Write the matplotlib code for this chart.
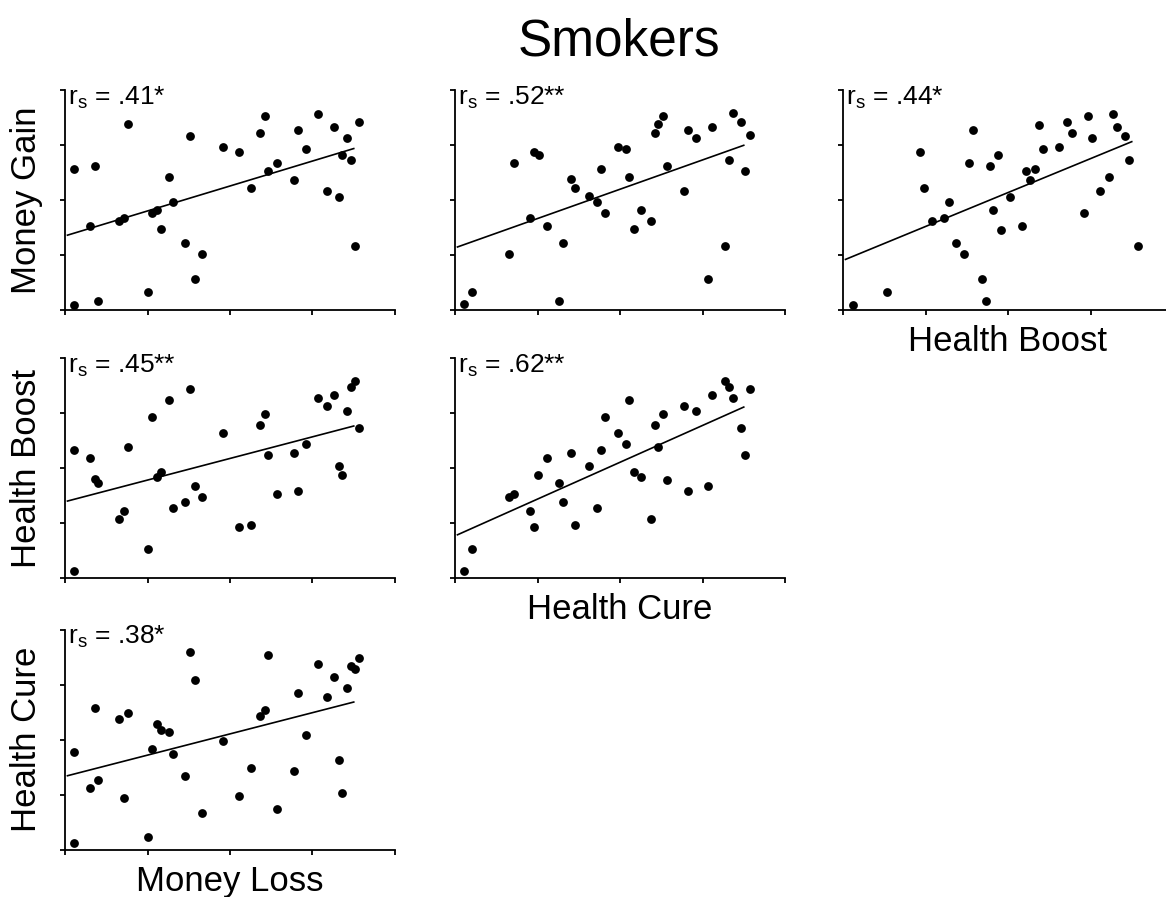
import numpy as np
import matplotlib.pyplot as plt

plt.rcParams['font.family'] = ['Liberation Sans', 'DejaVu Sans']

# Rank scores, one list pair per panel

# Money Gain vs Money Loss
gain_loss_x = [1.1, 1.1, 3.0, 3.6, 4.0, 6.6, 7.2, 7.6, 10.1, 10.6, 11.1, 11.6, 12.6,
               13.1, 14.6, 15.2, 15.7, 16.6, 19.1, 21.1, 22.6, 23.6, 24.2, 24.6, 25.7,
               27.7, 28.2, 29.2, 30.7, 31.7, 32.6, 33.2, 33.6, 34.2, 34.7, 35.2, 35.6]
gain_loss_y = [25.6, 1.0, 15.2, 26.2, 1.6, 16.1, 16.7, 33.8, 3.2, 17.6, 18.2, 14.7, 24.1,
               19.7, 12.1, 31.6, 5.6, 10.1, 29.7, 28.7, 22.1, 32.1, 35.3, 25.2, 26.7,
               23.6, 32.7, 29.2, 35.6, 21.7, 33.2, 20.6, 28.2, 31.2, 27.2, 11.6, 34.2]

# Money Gain vs Health Cure
gain_cure_x = [1.1, 2.1, 6.6, 7.2, 9.1, 9.6, 10.2, 11.1, 12.6, 13.1, 14.1, 14.6, 16.2,
               17.2, 17.7, 18.2, 19.7, 20.7, 21.1, 21.7, 22.6, 23.7, 24.2, 24.6, 25.2,
               25.7, 27.7, 28.2, 29.2, 30.7, 31.2, 32.7, 33.2, 33.7, 34.7, 35.2, 35.7]
gain_cure_y = [1.1, 3.2, 10.1, 26.7, 16.7, 28.8, 28.2, 15.2, 1.7, 12.2, 23.8, 22.2, 20.8,
               19.7, 25.7, 17.7, 29.7, 29.3, 24.2, 14.7, 18.2, 16.2, 32.2, 33.8, 35.3,
               26.2, 21.7, 32.7, 31.3, 5.6, 33.3, 11.7, 27.2, 35.8, 34.2, 25.2, 31.8]

# Money Gain vs Health Boost
gain_boost_x = [1.2, 5.3, 9.3, 9.8, 10.8, 12.2, 12.8, 13.7, 14.7, 15.3, 15.7, 16.8, 17.3,
                17.8, 18.2, 18.8, 19.2, 20.2, 21.7, 22.2, 22.7, 23.3, 23.7, 24.3, 26.2,
                27.2, 27.7, 29.2, 29.7, 30.2, 31.2, 32.2, 32.7, 33.2, 34.2, 34.7, 35.7]
gain_boost_y = [1.0, 3.2, 28.7, 22.1, 16.1, 16.7, 19.6, 12.1, 10.1, 26.7, 32.7, 5.6, 1.6,
                26.2, 18.2, 28.1, 14.6, 20.6, 15.2, 25.2, 23.6, 25.6, 33.7, 29.2, 29.6,
                34.2, 32.1, 17.6, 35.2, 31.2, 21.6, 24.2, 35.7, 33.2, 31.7, 27.2, 11.6]

# Health Boost vs Money Loss
boost_loss_x = gain_loss_x
boost_loss_y = [23.3, 1.2, 21.8, 18.0, 17.3, 10.7, 12.2, 23.8, 5.2, 29.3, 18.4, 19.3, 32.4,
                12.8, 13.8, 34.4, 16.8, 14.8, 26.4, 9.2, 9.7, 27.8, 29.8, 22.3, 15.2,
                22.8, 15.8, 24.3, 32.8, 31.3, 33.3, 20.3, 18.8, 30.3, 34.8, 35.9, 27.3]

# Health Boost vs Health Cure
boost_cure_x = [1.1, 2.1, 6.6, 7.2, 9.1, 9.6, 10.1, 11.1, 12.6, 13.1, 14.1, 14.6, 16.2,
                17.2, 17.7, 18.2, 19.7, 20.7, 21.1, 21.7, 22.6, 23.7, 24.2, 24.6, 25.2,
                25.7, 27.7, 28.2, 29.2, 30.7, 31.2, 32.7, 33.2, 33.7, 34.7, 35.2, 35.7]
boost_cure_y = [1.2, 5.2, 14.7, 15.3, 12.2, 9.2, 18.8, 21.8, 17.3, 13.8, 22.8, 9.7, 20.3,
                12.8, 23.3, 29.3, 26.3, 24.3, 32.4, 19.3, 18.3, 10.7, 27.8, 23.8, 29.8,
                17.8, 31.3, 15.8, 30.3, 16.8, 33.3, 35.9, 34.8, 32.8, 27.3, 22.3, 34.4]

# Health Cure vs Money Loss
cure_loss_x = [1.1, 1.1, 3.0, 3.6, 4.0, 6.6, 7.1, 7.6, 10.1, 10.6, 11.1, 11.6, 12.6,
               13.1, 14.6, 15.2, 15.7, 16.6, 19.1, 21.1, 22.6, 23.6, 24.2, 24.6, 25.7,
               27.7, 28.2, 29.2, 30.7, 31.7, 32.6, 33.2, 33.6, 34.2, 34.7, 35.2, 35.6]
cure_loss_y = [17.8, 1.2, 11.2, 25.8, 12.7, 23.8, 9.3, 24.8, 2.3, 18.2, 22.8, 21.8, 21.3,
               17.3, 13.3, 36.0, 30.8, 6.7, 19.8, 9.8, 14.8, 24.3, 25.3, 35.4, 7.3,
               14.3, 28.4, 20.8, 33.8, 27.8, 31.3, 16.3, 10.3, 29.3, 33.4, 32.9, 34.8]

rs_labels = ['.41*', '.52**', '.44*', '.45**', '.62**', '.38*']

panels = [
    # (row, col, x, y, rs, xlabel, ylabel)
    (0, 0, gain_loss_x, gain_loss_y, rs_labels[0], None, 'Money Gain'),
    (0, 1, gain_cure_x, gain_cure_y, rs_labels[1], None, None),
    (0, 2, gain_boost_x, gain_boost_y, rs_labels[2], 'Health Boost', None),
    (1, 0, boost_loss_x, boost_loss_y, rs_labels[3], None, 'Health Boost'),
    (1, 1, boost_cure_x, boost_cure_y, rs_labels[4], 'Health Cure', None),
    (2, 0, cure_loss_x, cure_loss_y, rs_labels[5], 'Money Loss', 'Health Cure'),
]

W, H = 1166, 897
fig = plt.figure(figsize=(W / 100, H / 100), dpi=100)

col_left = [65, 455, 843]
row_bottom = [310, 578, 849.5]
ax_w, ax_h = 330, 220

for row, col, x, y, rs, xlabel, ylabel in panels:
    ax = fig.add_axes([col_left[col] / W, 1 - row_bottom[row] / H, ax_w / W, ax_h / H])
    x = np.array(x)
    y = np.array(y)
    ax.scatter(x, y, s=40, color='black', linewidths=0, zorder=3)

    slope, intercept = np.polyfit(x, y, 1)
    xs = np.array([0.3, 35.0])
    ax.plot(xs, intercept + slope * xs, color='black', lw=1.2)

    ax.set_xlim(0, 40)
    ax.set_ylim(0, 40)
    ax.set_xticks([0, 10, 20, 30, 40])
    ax.set_yticks([0, 10, 20, 30, 40])
    ax.set_xticklabels([])
    ax.set_yticklabels([])
    for side in ['top', 'right']:
        ax.spines[side].set_visible(False)
    for side in ['left', 'bottom']:
        ax.spines[side].set_linewidth(1.3)
    ax.tick_params(direction='out', length=3.5, width=1.3)

    ax.text(0.01, 1.025, r'$\mathregular{r_s}$ = ' + rs, transform=ax.transAxes,
            ha='left', va='top', fontsize=19)

    if xlabel:
        ax.set_xlabel(xlabel, fontsize=25, labelpad=4)
    if ylabel:
        ax.set_ylabel(ylabel, fontsize=25, labelpad=9)

fig.text(619 / W, 1 - 55 / H, 'Smokers', ha='center', va='baseline', fontsize=37)

plt.savefig('out.png', dpi=100)
